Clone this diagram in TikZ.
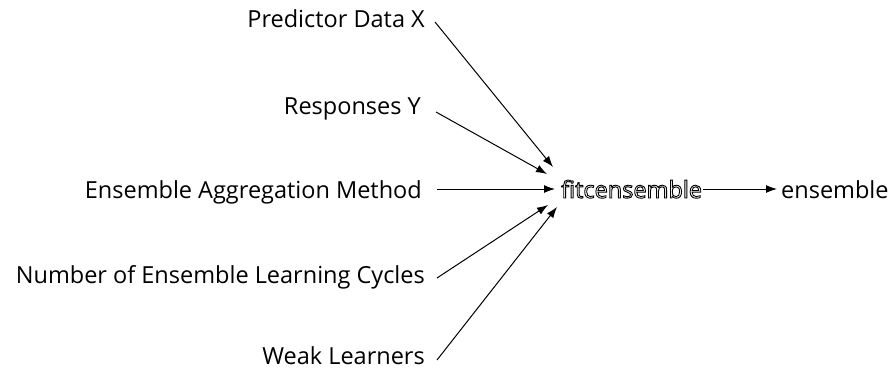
\documentclass[tikz,border=0pt]{standalone}
\usepackage{fontspec}
\setmainfont{Open Sans}
\usetikzlibrary{arrows.meta}
\newcommand{\outlinetext}[1]{\special{pdf:literal direct 1 Tr 0.9 w}#1\special{pdf:literal direct 0 Tr 1 w}}
\begin{document}
\begin{tikzpicture}[x=1pt,y=-1pt,
  lbl/.style={anchor=base east,inner sep=0pt,font=\fontsize{23.5}{28}\selectfont},
  conn/.style={line width=1pt,-{Latex[length=11pt,width=8pt]}}]
\useasboundingbox (0,0) rectangle (893,369);
\node[lbl] (pd) at (425,28) {Predictor Data X};
\node[lbl] (ry) at (421,114) {Responses Y};
\node[lbl] (ea) at (422,198) {Ensemble Aggregation Method};
\node[lbl] (nc) at (425,283) {Number of Ensemble Learning Cycles};
\node[lbl] (wl) at (425,364) {Weak Learners};
\node[lbl,anchor=base west] (ens) at (781,198) {ensemble};
\coordinate (s1) at (435,22);
\coordinate (s2) at (436,112);
\coordinate (s3) at (437,189);
\coordinate (s4) at (437,278);
\coordinate (s5) at (437,360);
\coordinate (t1) at (553,167);
\coordinate (t2) at (547,174);
\coordinate (t3) at (555,189);
\coordinate (t4) at (548,205);
\coordinate (t5) at (557,207);
\coordinate (o1) at (703,189);
\coordinate (o2) at (777,189);
\draw[conn] (s1) -- (t1);
\draw[conn] (s2) -- (t2);
\draw[conn] (s3) -- (t3);
\draw[conn] (s4) -- (t4);
\draw[conn] (s5) -- (t5);
\draw[conn] (o1) -- (o2);
\node[lbl,anchor=base west] (fit) at (561,198) {\outlinetext{fitcensemble}};
\end{tikzpicture}
\end{document}
